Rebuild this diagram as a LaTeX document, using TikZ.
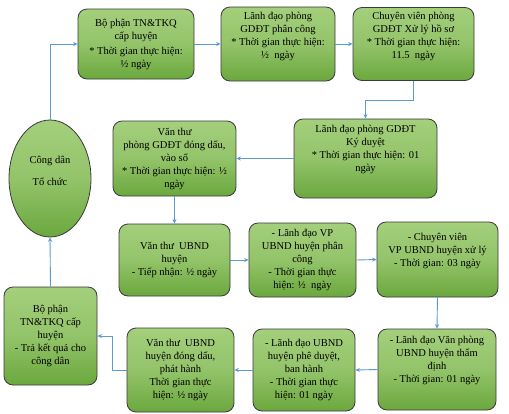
\documentclass[tikz,border=0pt]{standalone}
\usepackage{fontspec}
\setmainfont{Liberation Serif}
\usetikzlibrary{arrows.meta,shapes.geometric}
\definecolor{gtop}{HTML}{A4CF7C}
\definecolor{gbot}{HTML}{6BA83E}
\definecolor{bord}{HTML}{3A3A3A}
\definecolor{arr}{HTML}{5B9BD5}
\tikzset{
  box/.style={draw=bord, line width=0.8pt, rounded corners=9pt, top color=gtop, bottom color=gbot, middle color=gtop!70!gbot,
    align=center, font=\fontsize{10.5}{13}\selectfont, inner sep=1pt},
  link/.style={draw=arr, line width=0.9pt, -{Stealth[length=4.5pt,width=4pt]}},
  line/.style={draw=arr, line width=0.9pt}
}
\begin{document}
\begin{tikzpicture}[x=1pt,y=-1pt]
\useasboundingbox (0,0) rectangle (509,413);
\fill[white] (0,0) rectangle (509,413);
% row 1
\node[box, minimum width=116pt, minimum height=70pt] (b1) at (136,44) {Bộ phận TN\&TKQ\\ cấp huyện\\[2pt] * Thời gian thực hiện:\\ ½ ngày};
\node[box, minimum width=114pt, minimum height=74pt] (b2) at (278,44) {Lãnh đạo phòng\\ GDĐT phân công\\ * Thời gian thực hiện:\\ ½\ \ ngày\\[4pt]};
\node[box, minimum width=121pt, minimum height=73pt] (b3) at (413.5,44) {Chuyên viên phòng\\ GDĐT Xử lý hồ sơ\\ * Thời gian thực hiện:\\ 11.5\ \ ngày\\[4pt]};
% row 2
\node[box, minimum width=143pt, minimum height=79pt] (b4) at (365.5,158.5) {Lãnh đạo phòng GDĐT\\ Ký duyệt\\ * Thời gian thực hiện: 01\\ ngày\\[8pt]};
\node[box, minimum width=123pt, minimum height=75pt] (b5) at (174.5,158.5) {Văn thư\\ phòng GDĐT đóng dấu,\\ vào sổ\\ * Thời gian thực hiện: ½\\ ngày};
% ellipse
\node[ellipse, draw=bord, line width=0.8pt, top color=gtop, bottom color=gbot, middle color=gtop!70!gbot,
  minimum width=82pt, minimum height=117pt, inner sep=0pt, align=center, font=\fontsize{10.5}{13}\selectfont] (ell) at (50,178.5) {Công dân\\[9pt] Tổ chức\\[2pt]};
% row 3
\node[box, minimum width=111pt, minimum height=72pt] (b6) at (174.5,260) {Văn thư\ \ UBND\\ huyện\\ - Tiếp nhận: ½ ngày};
\node[box, minimum width=107pt, minimum height=74pt] (b7) at (302.5,260) {- Lãnh đạo VP\\ UBND huyện phân\\ công\\ - Thời gian thực\\ hiện: ½\ \ ngày};
\node[box, minimum width=121pt, minimum height=75pt] (b8) at (437.5,259.5) {- Chuyên viên\\ VP UBND huyện xử lý\\ - Thời gian: 03 ngày\\[6pt]};
% row 4
\node[box, minimum width=118pt, minimum height=81pt] (b9) at (437,369.5) {- Lãnh đạo Văn phòng\\ UBND huyện thẩm\\ định\\ - Thời gian: 01 ngày\\[8pt]};
\node[box, minimum width=102pt, minimum height=82pt] (b10) at (304,370) {- Lãnh đạo UBND\\ huyện phê duyệt,\\ ban hành\\ - Thời gian thực\\ hiện: 01 ngày};
\node[box, minimum width=107pt, minimum height=84pt] (b11) at (180.5,370) {Văn thư\ \ UBND\\ huyện đóng dấu,\\ phát hành\\ Thời gian thực\\ hiện: ½ ngày};
\node[box, minimum width=93pt, minimum height=98pt] (b12) at (50.5,336) {Bộ phận\\ TN\&TKQ cấp\\ huyện\\ - Trả kết quả cho\\ công dân};
% connectors
\draw[link] (ell.north) |- (b1.west);
\draw[link] (b1.east) -- (b2.west);
\draw[link] (b2.east) -- (b3.west);
\coordinate (k34) at (b3.south |- 0,100);
\draw[link] (b3.south) -- (k34) -| (b4.north);
\draw[link] (b4.west) -- (b5.east);
\draw[link] (b5.south) -- (b6.north);
\draw[link] (b6.east) -- (b7.west);
\draw[link] (b7.east) -- (b8.west);
\draw[link] (b8.south) -- (b9.north);
\draw[link] (b9.west) -- (b10.east);
\draw[link] (b10.west) -- (b11.east);
\coordinate (k1112) at (112,370);
\draw[link] (b11.west) -- (k1112) |- (b12.east);
\draw[link] (b12.north) -- (ell.south);
\end{tikzpicture}
\end{document}
